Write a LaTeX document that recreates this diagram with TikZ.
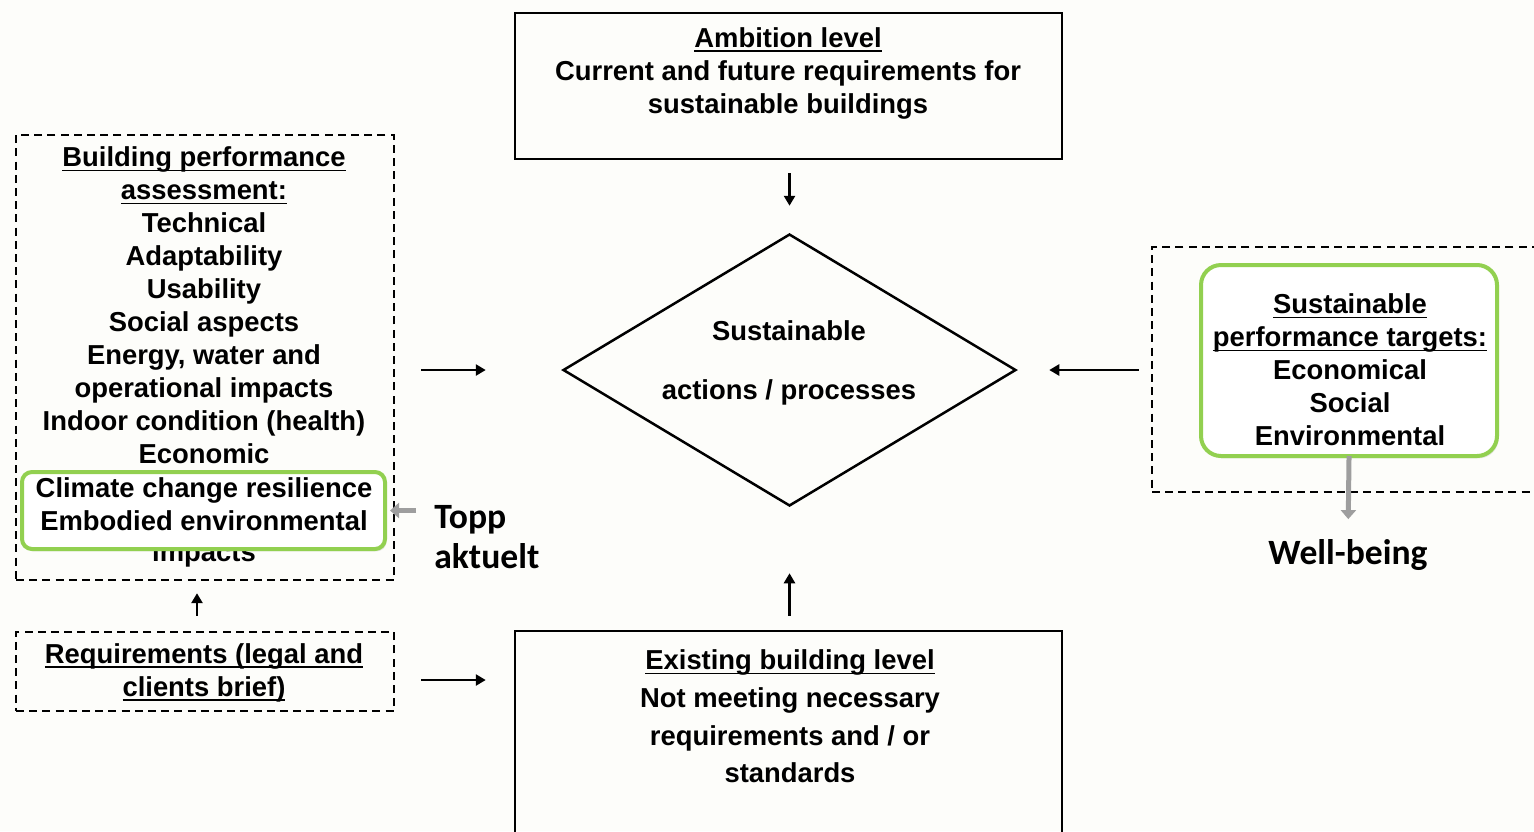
\documentclass[tikz,border=0pt]{standalone}
\usepackage{fontspec}
\setmainfont{Liberation Sans}
\newfontfamily\calib{Carlito}
\usetikzlibrary{shapes.geometric,arrows.meta,shadows}
\definecolor{bg}{RGB}{253,253,250}
\definecolor{lgreen}{RGB}{146,208,80}
\definecolor{arrgray}{RGB}{158,158,158}
% underline drawn as a rule just below the baseline
\newcommand\ulx[1]{\begingroup\setbox0\hbox{#1}\leavevmode\rlap{\rule[-2.3pt]{\wd0}{0.8pt}}\box0\endgroup}
\tikzset{
  solidbox/.style={draw=black, line width=1.25pt, inner sep=0pt},
  dashbox/.style={draw=black, line width=1.2pt, dash pattern=on 4pt off 2.6pt, inner sep=0pt},
  greenbox/.style={draw=lgreen, line width=2pt, fill=white, rounded corners=#1, inner sep=0pt,
    drop shadow={opacity=0.18, shadow xshift=0.8pt, shadow yshift=-1.2pt}},
  txt/.style={font=\bfseries\fontsize{13.7}{16.5}\selectfont, align=center, inner sep=0pt},
  callout/.style={font=\calib\bfseries\fontsize{17.8}{20}\selectfont, align=left, inner sep=0pt},
  arr/.style={-{Triangle[length=5pt,width=5.5pt]}, line width=1.4pt},
  grayarr/.style={-{Triangle[length=4.5pt,width=7.5pt]}, line width=2.5pt, draw=arrgray, color=arrgray},
}
\begin{document}
\begin{tikzpicture}[x=0.5pt, y=-0.5pt]
  \path[use as bounding box, fill=bg] (0,0) rectangle (1534,831);
  \clip (0,0) rectangle (1534,831);

  % main boxes
  \node[solidbox, minimum width=273.5pt, minimum height=73pt] (ambition) at (788.5,86) {};
  \node[txt] (ambitiontxt) at (788,73) {\ulx{Ambition level}\\Current and future requirements for\\sustainable buildings};

  \node[draw=black, line width=1.25pt, diamond, inner sep=0pt, minimum width=226.5pt, minimum height=136pt] (diamond) at (789.5,370) {};
  \node[txt, font=\bfseries\fontsize{13.7}{29.5}\selectfont] (diamondtxt) at (789,362.5) {Sustainable\\actions / processes};

  \node[solidbox, minimum width=273.5pt, minimum height=119.5pt] (existing) at (788.5,750.5) {};
  \node[txt, font=\bfseries\fontsize{13.7}{18.85}\selectfont] (existingtxt) at (790,716.5) {\ulx{Existing building level}\\Not meeting necessary\\requirements and / or\\standards};

  % building performance assessment
  \node[dashbox, minimum width=189pt, minimum height=222.5pt] (assess) at (205,357.5) {};
  \node[txt] (assesstxt) at (204,305.5) {\ulx{Building performance}\\\ulx{assessment:}\\Technical\\Adaptability\\Usability\\Social aspects\\Energy, water and\\operational impacts\\Indoor condition (health)\\Economic};
  \node[txt] (impacts) at (204,554) {impacts};
  \node[greenbox=5pt, minimum width=181.5pt, minimum height=38.5pt] (greenL) at (203.5,510.5) {};
  \node[txt] (climatetxt) at (204,504) {Climate change resilience\\Embodied environmental};

  % requirements
  \node[dashbox, minimum width=189pt, minimum height=39.5pt] (req) at (205,671.5) {};
  \node[txt] (reqtxt) at (204,672.5) {\ulx{Requirements (legal and}\\\ulx{clients brief)}};

  % sustainable performance targets
  \node[dashbox, minimum width=204pt, minimum height=122.5pt] (targets) at (1356,369.5) {};
  \node[greenbox=10pt, minimum width=148pt, minimum height=95.5pt] (greenR) at (1349,360.5) {};
  \node[txt] (targetstxt) at (1350,370) {\ulx{Sustainable}\\\ulx{performance targets:}\\Economical\\Social\\Environmental};

  % annotations
  \node[callout, anchor=west] (topp) at (434,537) {Topp\\aktuelt};
  \node[callout] (wellbeing) at (1348,555) {Well-being};

  % connectors
  \draw[arr, shorten <=6.5pt, shorten >=13.5pt] (ambition.south -| diamond.north) -- (diamond.north);
  \draw[arr, shorten <=7pt, shorten >=33pt] (existing.north -| diamond.south) -- (diamond.south);
  \draw[arr, shorten <=13pt, shorten >=38pt] (assess.east |- diamond.west) -- (diamond.west);
  \draw[arr, shorten <=6pt, shorten >=16pt] (targets.west |- diamond.east) -- (diamond.east);
  \draw[arr, shorten <=13pt, shorten >=14pt] ([yshift=-4.25pt]req.east) -- ([yshift=-4.25pt]req.east -| existing.west);
  \draw[arr, shorten <=7.5pt, shorten >=6pt] ([xshift=-4pt]req.north) -- ([xshift=-4pt]assess.south);
  \draw[grayarr, shorten <=-1pt, shorten >=10pt] (greenR.south) -- (wellbeing.north);
  \draw[grayarr, shorten <=9pt, shorten >=1.5pt] (greenL.east -| topp.west) -- (greenL.east);
\end{tikzpicture}
\end{document}
